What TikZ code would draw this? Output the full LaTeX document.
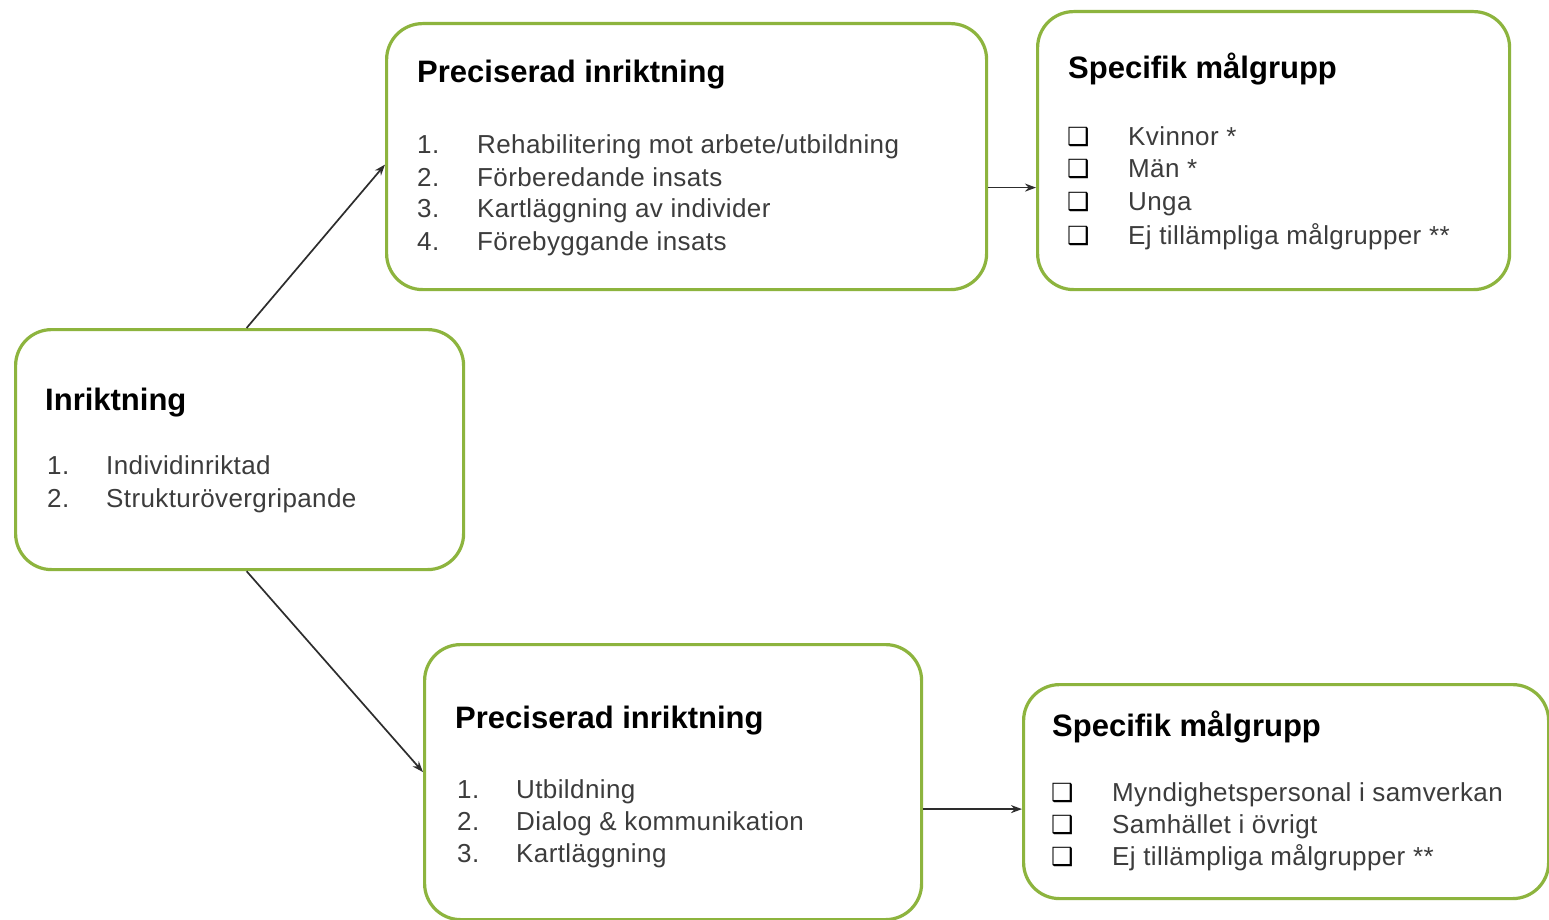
\documentclass[tikz,border=0pt]{standalone}
\usepackage{fontspec}
\setmainfont{Liberation Sans}
\newfontfamily\itemfont[LetterSpace=1.5]{Liberation Sans}
\newfontfamily\symfont{DejaVu Sans}
\usetikzlibrary{arrows.meta}
\definecolor{boxgreen}{RGB}{141,180,62}
\definecolor{itemgray}{RGB}{60,60,60}
\definecolor{arrowgray}{RGB}{45,45,45}
\begin{document}
\begin{tikzpicture}[x=1pt,y=-1pt,
 box/.style={draw=boxgreen, line width=3.2pt, rounded corners=36pt, fill=white, rectangle, inner sep=0pt, anchor=north west},
 ttl/.style={anchor=base west, inner sep=0pt, font=\fontsize{31}{32}\selectfont\bfseries, text=black},
 itm/.style={anchor=base west, inner sep=0pt, font=\itemfont\fontsize{26}{28}\selectfont, text=itemgray},
 chk/.style={anchor=base west, inner sep=0pt, font=\symfont\fontsize{25}{27}\selectfont\bfseries, text=black},
 conn/.style={draw=arrowgray, line width=1.7pt, -{Stealth[length=11pt,width=8pt]}}]
\useasboundingbox[fill=white] (0,0) rectangle (1549,920);

% boxes
\node[box, minimum width=448pt, minimum height=240pt] (A) at (14,328) {};
\node[box, minimum width=600pt, minimum height=266pt] (B) at (385,22) {};
\node[box, minimum width=472pt, minimum height=278pt] (C) at (1036,10) {};
\node[box, minimum width=497pt, minimum height=275pt] (D) at (423,643) {};
\node[box, minimum width=525pt, minimum height=214pt] (E) at (1022,683) {};

% connectors
\draw[conn] ([xshift=7pt]A.north) -- ([yshift=-8pt]B.west);
\draw[conn] ([xshift=7pt]A.south) -- ([yshift=10pt]D.west);
\draw[conn] ([yshift=-31pt]B.east) -- ([yshift=-31pt]B.east -| C.west);
\draw[conn] ([yshift=-27pt]D.east) -- ([yshift=-27pt]D.east -| E.west);

% A: Inriktning
\node[ttl] (At) at (45,410) {Inriktning};
\node[itm] (An1) at (47,474) {1.};
\node[itm] (Ai1) at (106,474) {Individinriktad};
\node[itm] (An2) at (47,507) {2.};
\node[itm] (Ai2) at (106,507) {Strukturövergripande};

% B: Preciserad inriktning (top)
\node[ttl] (Bt) at (417,83) {Preciserad inriktning};
\node[itm] (Bn1) at (417,154) {1.};
\node[itm] (Bi1) at (477,154) {Rehabilitering mot arbete/utbildning};
\node[itm] (Bn2) at (417,186) {2.};
\node[itm] (Bi2) at (477,186) {Förberedande insats};
\node[itm] (Bn3) at (417,218) {3.};
\node[itm] (Bi3) at (477,218) {Kartläggning av individer};
\node[itm] (Bn4) at (417,250) {4.};
\node[itm] (Bi4) at (477,250) {Förebyggande insats};

% C: Specifik målgrupp (top)
\node[ttl] (Ct) at (1068,79) {Specifik målgrupp};
\node[chk] (Cc1) at (1067,146) {❑};
\node[itm] (Ci1) at (1128,146) {Kvinnor *};
\node[chk] (Cc2) at (1067,178) {❑};
\node[itm] (Ci2) at (1128,178) {Män *};
\node[chk] (Cc3) at (1067,211) {❑};
\node[itm] (Ci3) at (1128,211) {Unga};
\node[chk] (Cc4) at (1067,244) {❑};
\node[itm] (Ci4) at (1128,244) {Ej tillämpliga målgrupper **};

% D: Preciserad inriktning (bottom)
\node[ttl] (Dt) at (455,728) {Preciserad inriktning};
\node[itm] (Dn1) at (457,798) {1.};
\node[itm] (Di1) at (516,798) {Utbildning};
\node[itm] (Dn2) at (457,830) {2.};
\node[itm] (Di2) at (516,830) {Dialog \& kommunikation};
\node[itm] (Dn3) at (457,862) {3.};
\node[itm] (Di3) at (516,862) {Kartläggning};

% E: Specifik målgrupp (bottom)
\node[ttl] (Et) at (1052,736) {Specifik målgrupp};
\node[chk] (Ec1) at (1051,801) {❑};
\node[itm] (Ei1) at (1112,801) {Myndighetspersonal i samverkan};
\node[chk] (Ec2) at (1051,833) {❑};
\node[itm] (Ei2) at (1112,833) {Samhället i övrigt};
\node[chk] (Ec3) at (1051,865) {❑};
\node[itm] (Ei3) at (1112,865) {Ej tillämpliga målgrupper **};
\end{tikzpicture}
\end{document}
